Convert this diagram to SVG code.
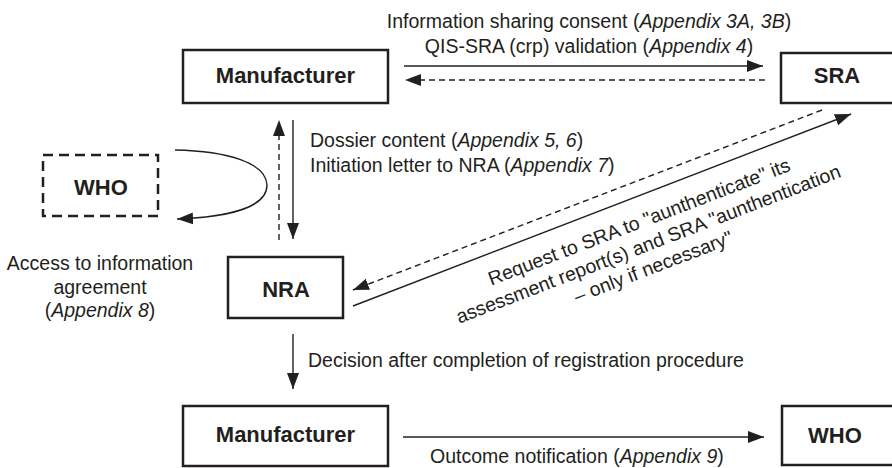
<svg xmlns="http://www.w3.org/2000/svg" width="892" height="468" viewBox="0 0 892 468">
<style>
  .box { fill: #fff; stroke: #231f20; stroke-width: 2.5; }
  .dbox { fill: #fff; stroke: #231f20; stroke-width: 2.5; stroke-dasharray: 10 6; }
  .lbl { font-family: "Liberation Sans", Arial, sans-serif; font-weight: bold; font-size: 22px; fill: #231f20; text-anchor: middle; }
  .t { font-family: "Liberation Sans", Arial, sans-serif; font-size: 19.5px; fill: #231f20; }
  .m { text-anchor: middle; }
  .i { font-style: italic; }
  .ln { fill: none; stroke: #231f20; stroke-width: 1.4; }
  .dash { stroke-dasharray: 6 4; }
</style>
<defs>
  <marker id="ah" markerUnits="userSpaceOnUse" markerWidth="18" markerHeight="14" refX="16" refY="7" orient="auto">
    <path d="M0,1 L16,7 L0,13 z" fill="#231f20"/>
  </marker>
</defs>

<g id="manufacturer-top">
  <rect class="box" x="183" y="50" width="205" height="53"/>
  <text class="lbl" x="285.5" y="83">Manufacturer</text>
</g>
<g id="sra">
  <rect class="box" x="781" y="53" width="120" height="50"/>
  <text class="lbl" x="837" y="83">SRA</text>
</g>
<g id="who-dashed">
  <rect class="dbox" x="43" y="155" width="115" height="61"/>
  <text class="lbl" x="101" y="195">WHO</text>
</g>
<g id="nra">
  <rect class="box" x="228" y="257" width="115" height="61"/>
  <text class="lbl" x="286" y="297">NRA</text>
</g>
<g id="manufacturer-bottom">
  <rect class="box" x="183" y="406" width="205" height="60"/>
  <text class="lbl" x="285.5" y="442">Manufacturer</text>
</g>
<g id="who-bottom">
  <rect class="box" x="782" y="406" width="120" height="59"/>
  <text class="lbl" x="835" y="443">WHO</text>
</g>

<g id="connectors">
  <line class="ln" x1="404" y1="66" x2="763" y2="66" marker-end="url(#ah)"/>
  <line class="ln dash" x1="765" y1="80" x2="405" y2="80" marker-end="url(#ah)"/>
  <line class="ln dash" x1="279" y1="240" x2="279" y2="120" marker-end="url(#ah)"/>
  <line class="ln" x1="293" y1="120" x2="293" y2="239" marker-end="url(#ah)"/>
  <path class="ln" d="M175,150 C228,151 266,163 267,185 C267,207 230,217 177,219" marker-end="url(#ah)"/>
  <line class="ln" x1="353" y1="306" x2="851" y2="114" marker-end="url(#ah)"/>
  <line class="ln dash" x1="822" y1="110" x2="353" y2="290" marker-end="url(#ah)"/>
  <line class="ln" x1="293" y1="334" x2="293" y2="389" marker-end="url(#ah)"/>
  <line class="ln" x1="403" y1="437" x2="764" y2="437" marker-end="url(#ah)"/>
</g>

<g id="labels">
  <text class="t m" x="589" y="28">Information sharing consent (<tspan class="i">Appendix 3A, 3B</tspan>)</text>
  <text class="t m" x="589" y="53">QIS-SRA (crp) validation (<tspan class="i">Appendix 4</tspan>)</text>
  <text class="t" x="310" y="147">Dossier content (<tspan class="i">Appendix 5, 6</tspan>)</text>
  <text class="t" x="310" y="172">Initiation letter to NRA (<tspan class="i">Appendix 7</tspan>)</text>
  <text class="t m" x="100" y="270">Access to information</text>
  <text class="t m" x="100" y="294">agreement</text>
  <text class="t m" x="100" y="317">(<tspan class="i">Appendix 8</tspan>)</text>
  <g transform="translate(641.5,228) rotate(-21)">
    <text class="t m" x="0" y="0">Request to SRA to "aunthenticate" its</text>
    <text class="t m" x="0.5" y="24">assessment report(s) and SRA "aunthentication</text>
    <text class="t m" x="-3" y="47">– only if necessary"</text>
  </g>
  <text class="t" x="308" y="367">Decision after completion of registration procedure</text>
  <text class="t" x="430" y="463">Outcome notification (<tspan class="i">Appendix 9</tspan>)</text>
</g>
</svg>
